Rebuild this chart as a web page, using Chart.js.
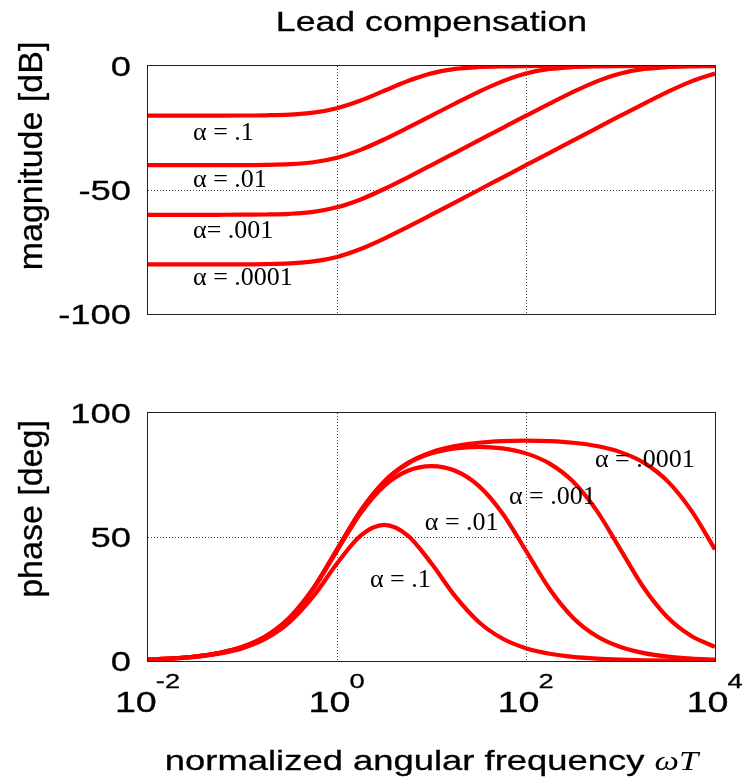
<!DOCTYPE html>
<html>
<head>
<meta charset="utf-8">
<script src="https://cdn.jsdelivr.net/npm/chart.js@4.4.1/dist/chart.umd.min.js"></script>
<style>
  html, body { margin: 0; padding: 0; background: #fff; }
  canvas { position: absolute; left: 0; }
  #magChart { top: 0; }
  #phaseChart { top: 340px; }
</style>
</head>
<body>
<canvas id="magChart" width="744" height="340"></canvas>
<canvas id="phaseChart" width="744" height="439"></canvas>
<script>
/* Lead compensation Bode plot: magnitude (top) and phase (bottom) */

// normalized angular frequency wT, quarter-decade steps
const omegaT = [0.01, 0.01778, 0.03162, 0.05623, 0.1, 0.1778, 0.3162, 0.5623, 1, 1.778, 3.162, 5.623,
  10, 17.78, 31.62, 56.23, 100, 177.8, 316.2, 562.3, 1000, 1778, 3162, 5623, 10000];

// magnitude [dB]
const magAlpha1 = [-20, -20, -20, -19.99, -19.96, -19.87, -19.59, -18.82, -17.03, -13.94, -10.0, -6.06,
  -2.97, -1.18, -0.41, -0.13, -0.04, -0.01, 0, 0, 0, 0, 0, 0, 0];
const magAlpha2 = [-40, -40, -40, -39.99, -39.96, -39.87, -39.59, -38.81, -36.99, -33.81, -29.59, -24.88,
  -20.0, -15.12, -10.41, -6.19, -3.01, -1.19, -0.41, -0.14, -0.04, -0.01, 0, 0, 0];
const magAlpha3 = [-60, -60, -60, -59.99, -59.96, -59.87, -59.59, -58.81, -56.99, -53.81, -49.59, -44.87,
  -39.96, -34.99, -30.0, -25.01, -20.04, -15.14, -10.41, -6.19, -3.01, -1.19, -0.41, -0.14, -0.04];
const magAlpha4 = [-80, -80, -80, -79.99, -79.96, -79.87, -79.59, -78.81, -76.99, -73.81, -69.59, -64.87,
  -59.96, -54.99, -50.0, -45.0, -40.0, -35.0, -30.0, -25.01, -20.04, -15.14, -10.41, -6.19, -3.01];

// phase [deg]
const phaseAlpha1 = [0.52, 0.92, 1.63, 2.90, 5.14, 9.06, 15.74, 26.14, 39.29, 50.56, 54.90, 50.56,
  39.29, 26.14, 15.74, 9.06, 5.14, 2.90, 1.63, 0.92, 0.52, 0.29, 0.16, 0.09, 0.05];
const phaseAlpha2 = [0.57, 1.01, 1.79, 3.19, 5.65, 9.98, 17.37, 29.04, 44.43, 59.62, 70.64, 76.70,
  78.58, 76.70, 70.64, 59.62, 44.43, 29.04, 17.37, 9.98, 5.65, 3.19, 1.79, 1.01, 0.57];
const phaseAlpha3 = [0.57, 1.02, 1.81, 3.21, 5.70, 10.07, 17.53, 29.33, 44.94, 60.54, 72.27, 79.60,
  83.72, 85.76, 86.38, 85.76, 83.72, 79.60, 72.27, 60.54, 44.94, 29.33, 17.53, 10.07, 5.70];
const phaseAlpha4 = [0.57, 1.02, 1.81, 3.22, 5.71, 10.08, 17.55, 29.36, 44.99, 60.63, 72.43, 79.89,
  84.23, 86.68, 88.01, 88.66, 88.86, 88.66, 88.01, 86.68, 84.23, 79.89, 72.43, 60.63, 44.99];

// tick labels
const xTickExp = [-2, 0, 2, 4];
const magTicks = [0, -50, -100];
const phaseTicks = [100, 50, 0];

// curve labels (placed in data coordinates, baseline-left)
const magLabels = [
  { text: 'α = .1', x: 0.03, y: -29.8 },
  { text: 'α = .01', x: 0.03, y: -48.8 },
  { text: 'α= .001', x: 0.03, y: -69.4 },
  { text: 'α = .0001', x: 0.03, y: -88.3 }
];
const phaseLabels = [
  { text: 'α = .1', x: 2.23, y: 29.8 },
  { text: 'α = .01', x: 8.5, y: 52.8 },
  { text: 'α = .001', x: 66, y: 63.3 },
  { text: 'α = .0001', x: 537, y: 78.2 }
];

const SANS = "'Liberation Sans', Arial, sans-serif";
const SERIF = "'Liberation Serif', 'Times New Roman', serif";
const SX = 1.3;   // the original lettering is wide

function pts(ys) { return omegaT.map((x, i) => ({ x: x, y: ys[i] })); }

function line(ys) {
  return {
    data: pts(ys),
    borderColor: '#ff0000',
    borderWidth: 4.2,
    pointRadius: 0,
    cubicInterpolationMode: 'monotone',
    fill: false
  };
}

function txt(ctx, str, x, y, font, opt) {
  opt = opt || {};
  ctx.save();
  ctx.translate(x, y);
  if (opt.rot) ctx.rotate(opt.rot);
  ctx.scale(opt.sx || 1, 1);
  ctx.font = font;
  ctx.fillStyle = '#000';
  ctx.strokeStyle = '#000';
  ctx.textAlign = opt.align || 'left';
  ctx.textBaseline = 'alphabetic';
  ctx.fillText(str, 0, 0);
  if (opt.bold) { ctx.lineWidth = opt.bold; ctx.strokeText(str, 0, 0); }
  ctx.restore();
}

function textWidth(ctx, str, font, sx) {
  ctx.save();
  ctx.font = font;
  const w = ctx.measureText(str).width * (sx || 1);
  ctx.restore();
  return w;
}

// frame round the plot area, under the curves
const framePlugin = {
  id: 'frame',
  beforeDatasetsDraw(chart) {
    const a = chart.chartArea, ctx = chart.ctx;
    ctx.save();
    ctx.strokeStyle = '#222';
    ctx.lineWidth = 1;
    ctx.strokeRect(Math.round(a.left) - 0.5, Math.round(a.top) - 0.5,
      Math.round(a.right - a.left) + 1, Math.round(a.bottom - a.top) + 1);
    ctx.restore();
  }
};

// all lettering
const textPlugin = {
  id: 'letters',
  afterDraw(chart) {
    const ctx = chart.ctx, o = chart.options.plugins.letters;
    const xs = chart.scales.x, ys = chart.scales.y, a = chart.chartArea;
    const W = 0.3;

    if (o.title) txt(ctx, o.title, (a.left + a.right) / 2, 31, '28px ' + SANS, { sx: SX * 0.98, align: 'center', bold: W });

    txt(ctx, o.yTitle, 42, o.yTitleY, '34px ' + SANS, { rot: -Math.PI / 2, align: 'center', bold: W });

    o.yTicks.forEach(v => {
      txt(ctx, String(v), 131, ys.getPixelForValue(v) + 10, '28px ' + SANS, { sx: SX, align: 'right', bold: W });
    });

    o.labels.forEach(l => {
      txt(ctx, l.text, xs.getPixelForValue(l.x), ys.getPixelForValue(l.y), '26px ' + SERIF, { sx: 1.0 });
    });

    if (o.xTicks) {
      const bf = '29px ' + SANS, sf = '21px ' + SANS;
      o.xTicks.forEach(e => {
        const px = xs.getPixelForValue(Math.pow(10, e));
        const sup = e < 0 ? '-' + Math.abs(e) : String(e);
        const wb = textWidth(ctx, '10', bf, SX), ws = textWidth(ctx, sup, sf, SX);
        const x0 = px - (wb + ws) / 2;
        txt(ctx, '10', x0, a.bottom + 51, bf, { sx: SX, bold: W });
        txt(ctx, sup, x0 + wb - 1, a.bottom + 27, sf, { sx: SX, bold: W });
      });
      const main = 'normalized angular frequency ';
      const mf = '28px ' + SANS, itf = 'italic 28px ' + SERIF;
      const w1 = textWidth(ctx, main, mf, SX), w2 = textWidth(ctx, 'ωT', itf, SX * 0.95);
      const x0 = (a.left + a.right) / 2 - (w1 + w2) / 2;
      txt(ctx, main, x0, a.bottom + 109, mf, { sx: SX, bold: W });
      txt(ctx, 'ωT', x0 + w1, a.bottom + 109, itf, { sx: SX * 0.95 });
    }
  }
};

function makeOptions(yMin, yMax, yTickVals, pad, letters) {
  return {
    responsive: false,
    animation: false,
    devicePixelRatio: 1,
    layout: { padding: pad },
    plugins: { legend: { display: false }, tooltip: { enabled: false }, letters: letters },
    scales: {
      x: {
        type: 'logarithmic',
        min: 0.01,
        max: 10000,
        afterBuildTicks: s => { s.ticks = xTickExp.map(e => ({ value: Math.pow(10, e) })); },
        ticks: { display: false },
        grid: {
          drawTicks: false,
          lineWidth: 1,
          color: c => (c.tick && (c.tick.value === 1 || c.tick.value === 100)) ? '#444' : 'rgba(0,0,0,0)'
        },
        border: { display: false, dash: [1, 2] }
      },
      y: {
        min: yMin,
        max: yMax,
        afterBuildTicks: s => { s.ticks = yTickVals.map(v => ({ value: v })); },
        ticks: { display: false },
        grid: {
          drawTicks: false,
          lineWidth: 1,
          color: c => (c.tick && c.tick.value === (yMin + yMax) / 2) ? '#444' : 'rgba(0,0,0,0)'
        },
        border: { display: false, dash: [1, 2] }
      }
    }
  };
}

new Chart(document.getElementById('magChart'), {
  type: 'line',
  data: { datasets: [line(magAlpha1), line(magAlpha2), line(magAlpha3), line(magAlpha4)] },
  options: makeOptions(-100, 0, magTicks, { left: 148, right: 29, top: 66, bottom: 26 }, {
    title: 'Lead compensation',
    yTitle: 'magnitude [dB]',
    yTitleY: 156,
    yTicks: magTicks,
    labels: magLabels
  }),
  plugins: [framePlugin, textPlugin]
});

new Chart(document.getElementById('phaseChart'), {
  type: 'line',
  data: { datasets: [line(phaseAlpha1), line(phaseAlpha2), line(phaseAlpha3), line(phaseAlpha4)] },
  options: makeOptions(0, 100, phaseTicks, { left: 148, right: 29, top: 73, bottom: 118 }, {
    yTitle: 'phase [deg]',
    yTitleY: 169,
    yTicks: phaseTicks,
    labels: phaseLabels,
    xTicks: xTickExp
  }),
  plugins: [framePlugin, textPlugin]
});
</script>
</body>
</html>
